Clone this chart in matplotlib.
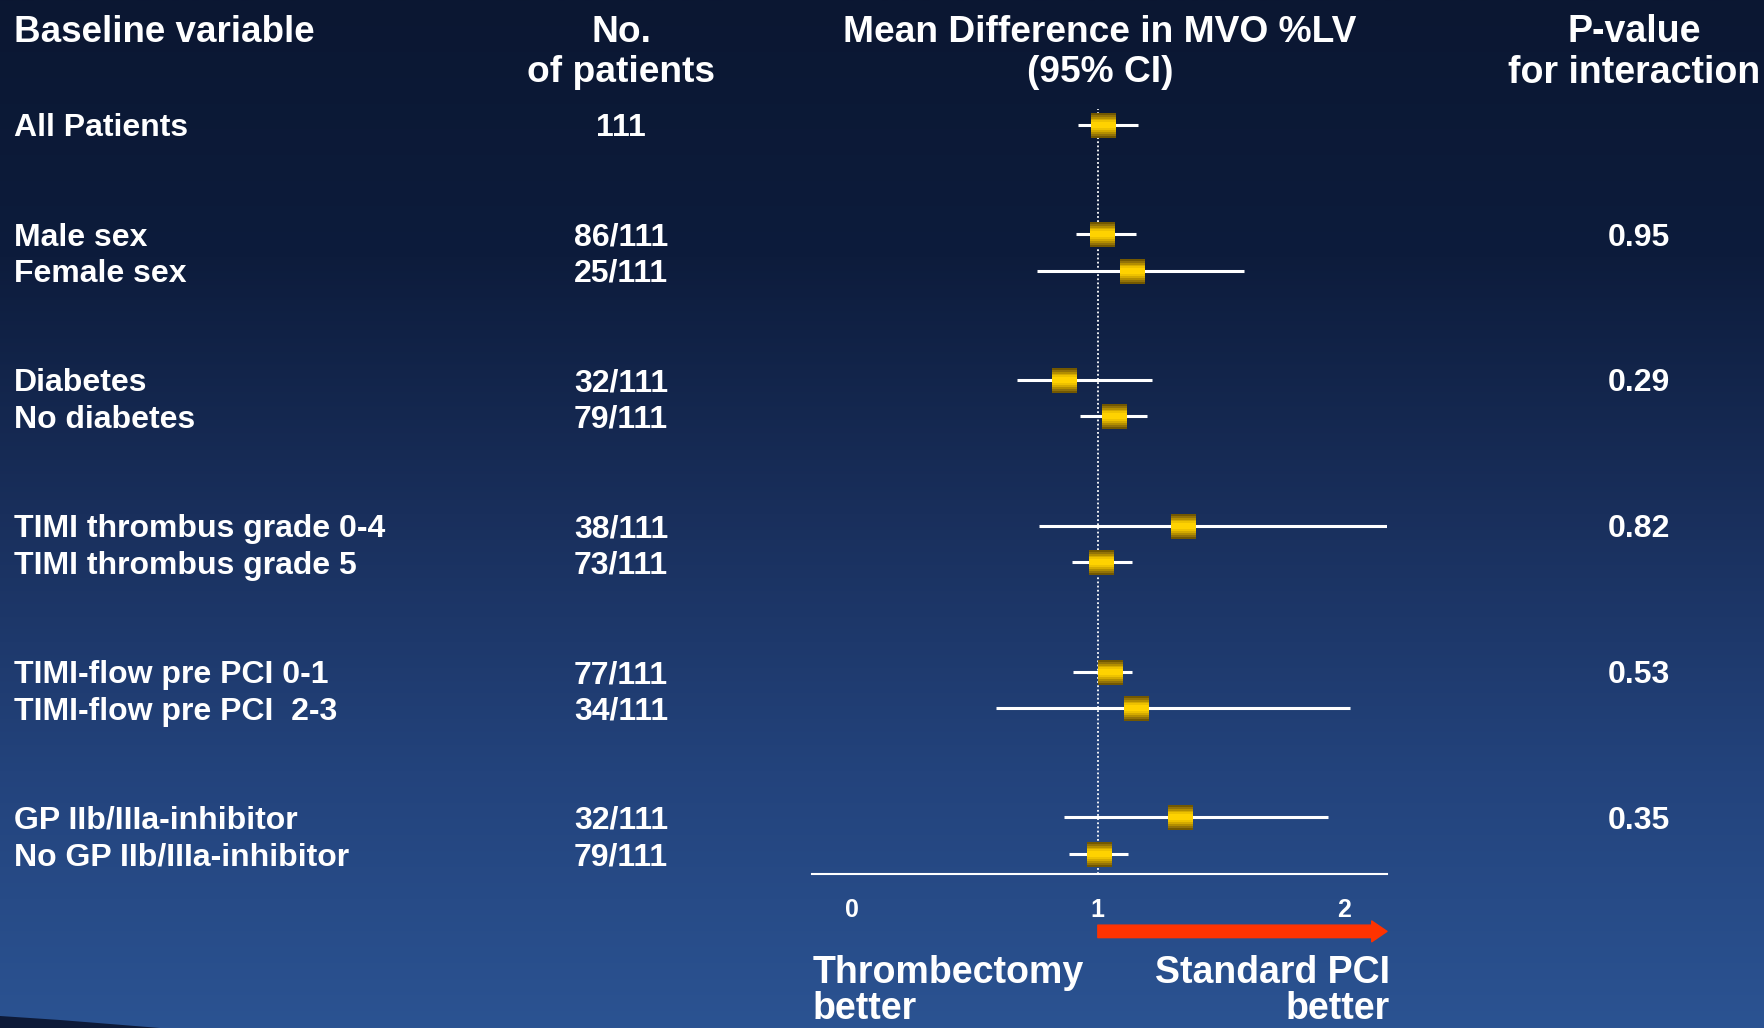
import numpy as np
import matplotlib.pyplot as plt
from matplotlib.patches import Polygon
from matplotlib import transforms

# Subgroups, patient counts, mean difference with 95% CI, interaction p-values
labels = ['All Patients', 'Male sex', 'Female sex', 'Diabetes', 'No diabetes',
          'TIMI thrombus grade 0-4', 'TIMI thrombus grade 5',
          'TIMI-flow pre PCI 0-1', 'TIMI-flow pre PCI  2-3',
          'GP IIb/IIIa-inhibitor', 'No GP IIb/IIIa-inhibitor']
n_patients = ['111', '86/111', '25/111', '32/111', '79/111', '38/111', '73/111',
              '77/111', '34/111', '32/111', '79/111']
rows = [0, 3, 4, 7, 8, 11, 12, 15, 16, 19, 20]
mean_diff = [1.023, 1.018, 1.137, 0.863, 1.064, 1.348, 1.014, 1.050, 1.156, 1.334, 1.005]
ci_low = [0.918, 0.913, 0.753, 0.670, 0.927, 0.762, 0.895, 0.899, 0.584, 0.863, 0.881]
ci_high = [1.165, 1.156, 1.595, 1.220, 1.201, 2.176, 1.137, 1.137, 2.025, 1.938, 1.124]
p_rows = [3, 7, 11, 15, 19]
p_values = ['0.95', '0.29', '0.82', '0.53', '0.35']
xticks = [0, 1, 2]

W, H = 1764, 1028
fig = plt.figure(figsize=(W / 100, H / 100), dpi=100)

# slide background: dark navy fading to blue
bg = fig.add_axes([0, 0, 1, 1], zorder=-10)
t = np.linspace(0, 1, 512)
stops_t = [0.0, 0.25, 0.5, 0.75, 1.0]
stops_c = np.array([[11, 23, 50], [13, 28, 60], [25, 47, 92], [35, 67, 124], [43, 83, 146]]) / 255
grad = np.stack([np.interp(t, stops_t, stops_c[:, k]) for k in range(3)], axis=-1)
bg.imshow(grad[:, None, :], aspect='auto', extent=[0, 1, 0, 1], origin='upper')
bg.add_patch(Polygon([[0, 0], [0, 12 / H], [60 / W, 8 / H], [160 / W, 0]],
                     closed=True, color='#0d1a38', lw=0))
bg.set_xlim(0, 1)
bg.set_ylim(0, 1)
bg.axis('off')

ax = fig.add_axes([812 / W, 154 / H, 575 / W, 765 / H])
ax.set_facecolor('none')
ax.set_xlim(-0.1625, 2.176)
ax.set_ylim(20.55, -0.43)
for s in ['top', 'right', 'left']:
    ax.spines[s].set_visible(False)
ax.spines['bottom'].set_color('white')
ax.spines['bottom'].set_linewidth(1.5)
ax.set_yticks([])
ax.set_xticks(xticks, [str(v) for v in xticks])
ax.tick_params(axis='x', length=0, pad=17, colors='white', labelsize=18)
for lbl in ax.get_xticklabels():
    lbl.set_fontweight('bold')
    lbl.set_family(['Liberation Sans', 'DejaVu Sans'])

# line of no difference
ax.axvline(1, color='white', lw=1.3, ls=(0, (1, 1.3)), zorder=1)

# confidence intervals
ax.hlines(rows, ci_low, ci_high, color='white', lw=2.2, zorder=2)

# gold squares with a vertical shading, built from stacked bars
shades = ['#735800', '#927208', '#b38e00', '#d4aa00', '#eec200', '#ffd200']
fracs = [1.0, 0.84, 0.68, 0.52, 0.38, 0.24]
for c, f in zip(shades, fracs):
    verts = [(-1, -f), (1, -f), (1, f), (-1, f), (-1, -f)]
    ax.plot(mean_diff, rows, ls='none', marker=verts, markersize=18,
            markerfacecolor=c, markeredgewidth=0, zorder=3)

# red arrow towards favouring standard PCI
ax.annotate('', xy=(ax.get_xlim()[1], -0.075), xytext=(1, -0.075),
            xycoords=ax.get_xaxis_transform(), annotation_clip=False,
            arrowprops=dict(arrowstyle='simple,head_length=0.55,head_width=0.75,tail_width=0.45',
                            color='#ff3300', shrinkA=0, shrinkB=0, mutation_scale=20))

bold = dict(color='white', fontweight='bold', family=['Liberation Sans', 'DejaVu Sans'])

# row text: baseline sits half a cap height under the row centre
row_fs = 23
cap_px = row_fs * 100 / 72 * 0.716
tr = transforms.blended_transform_factory(fig.transFigure, ax.transData)
tr = tr + transforms.ScaledTranslation(0, -cap_px / 2 / 100, fig.dpi_scale_trans)

for lab, n, r in zip(labels, n_patients, rows):
    ax.text(13.5 / W, r, lab, transform=tr, ha='left', va='baseline', fontsize=row_fs, **bold)
    ax.text(621 / W, r, n, transform=tr, ha='center', va='baseline', fontsize=row_fs, **bold)
for r, p in zip(p_rows, p_values):
    ax.text(1639 / W, r, p, transform=tr, ha='center', va='baseline', fontsize=row_fs, **bold)

# column headers
y1, y2 = 1 - 32 / H, 1 - 73 / H
fig.text(13.5 / W, y1, 'Baseline variable', ha='left', va='center', fontsize=26.5, **bold)
fig.text(621 / W, y1, 'No.', ha='center', va='center', fontsize=26.7, **bold)
fig.text(621 / W, y2, 'of patients', ha='center', va='center', fontsize=26.7, **bold)
fig.text(1100 / W, y1, 'Mean Difference in MVO %LV', ha='center', va='center', fontsize=26.7, **bold)
fig.text(1100 / W, y2, '(95% CI)', ha='center', va='center', fontsize=26.7, **bold)
fig.text(1634 / W, y1, 'P-value', ha='center', va='center', fontsize=27, **bold)
fig.text(1634 / W, y2, 'for interaction', ha='center', va='center', fontsize=27, **bold)

# direction labels under the axis
fig.text(813 / W, 1 - 983 / H, 'Thrombectomy', ha='left', va='baseline', fontsize=27, **bold)
fig.text(813 / W, 1 - 1019 / H, 'better', ha='left', va='baseline', fontsize=27, **bold)
fig.text(1390 / W, 1 - 983 / H, 'Standard PCI', ha='right', va='baseline', fontsize=27, **bold)
fig.text(1390 / W, 1 - 1019 / H, 'better', ha='right', va='baseline', fontsize=27, **bold)

fig.savefig('out.png', dpi=100)
